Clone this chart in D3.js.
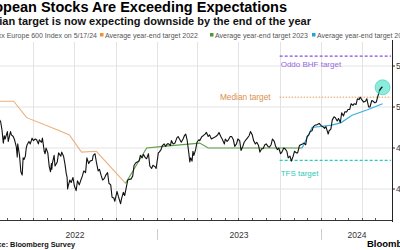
<!DOCTYPE html>
<html><head><meta charset="utf-8">
<script src="https://cdn.jsdelivr.net/npm/d3@7"></script>
<style>html,body{margin:0;padding:0;background:#fff;overflow:hidden}svg{display:block}</style>
</head><body><svg id="c" width="400" height="250"></svg>
<script>
const title = "European Stocks Are Exceeding Expectations";
const subtitle = "Median target is now expecting downside by the end of the year";
const legendLabels = ["Stoxx Europe 600 Index on 5/17/24","Average year-end target 2022","Average year-end target 2023","Average year-end target 2024"];
const yTicks = [400, 450, 500, 550];
const yearLabels = ["2022","2023","2024"];
const source = "Source: Bloomberg Survey";

const stoxx = [
["2021-12-01",468],["2021-12-06",470],["2021-12-10",473],["2021-12-15",474],["2021-12-20",470],["2021-12-24",483],["2021-12-29",488],
["2022-01-04",494],["2022-01-07",485],["2022-01-11",485],["2022-01-14",486],["2022-01-18",482],["2022-01-21",472],["2022-01-24",456],["2022-01-26",465],["2022-01-28",461],["2022-02-02",470],["2022-02-04",458],["2022-02-09",470],["2022-02-11",466],["2022-02-15",464],["2022-02-18",460],["2022-02-22",451],["2022-02-24",439],["2022-02-25",455],["2022-03-01",441],["2022-03-04",421],["2022-03-07",417],["2022-03-09",438],["2022-03-11",436],["2022-03-14",440],["2022-03-16",450],["2022-03-18",454],["2022-03-22",458],["2022-03-25",455],["2022-03-29",462],["2022-04-01",459],["2022-04-05",461],["2022-04-08",460],["2022-04-12",455],["2022-04-14",460],["2022-04-19",457],["2022-04-21",462],["2022-04-25",446],["2022-04-27",443],["2022-04-29",450],["2022-05-03",444],["2022-05-06",428],["2022-05-09",421],["2022-05-11",431],["2022-05-12",424],["2022-05-13",431],["2022-05-17",441],["2022-05-19",428],["2022-05-24",433],["2022-05-27",444],["2022-06-01",440],["2022-06-03",445],["2022-06-07",440],["2022-06-10",431],["2022-06-13",419],["2022-06-15",414],["2022-06-16",400],["2022-06-17",403],["2022-06-21",411],["2022-06-24",408],["2022-06-28",414],["2022-07-01",404],["2022-07-05",398],["2022-07-08",410],["2022-07-12",405],["2022-07-15",410],["2022-07-19",416],["2022-07-22",422],["2022-07-26",420],["2022-07-29",438],["2022-08-02",431],["2022-08-05",434],["2022-08-10",435],["2022-08-12",441],["2022-08-16",443],["2022-08-19",433],["2022-08-23",422],["2022-08-26",424],["2022-08-30",416],["2022-09-02",411],["2022-09-06",413],["2022-09-09",417],["2022-09-13",420],["2022-09-16",407],["2022-09-20",405],["2022-09-23",390],["2022-09-27",389],["2022-09-29",385],["2022-10-04",397],["2022-10-07",391],["2022-10-12",382],["2022-10-14",388],["2022-10-18",396],["2022-10-21",392],["2022-10-25",403],["2022-10-28",411],["2022-11-01",412],["2022-11-04",412],["2022-11-08",416],["2022-11-11",429],["2022-11-15",432],["2022-11-18",433],["2022-11-22",434],["2022-11-25",441],["2022-11-29",438],["2022-12-02",442],["2022-12-06",438],["2022-12-09",437],["2022-12-13",443],["2022-12-16",428],["2022-12-20",425],["2022-12-23",429],["2022-12-28",427],["2022-12-30",425],
["2023-01-04",444],["2023-01-06",445],["2023-01-10",448],["2023-01-13",453],["2023-01-17",455],["2023-01-20",452],["2023-01-24",455],["2023-01-27",455],["2023-01-31",453],["2023-02-02",459],["2023-02-06",455],["2023-02-10",456],["2023-02-14",462],["2023-02-17",464],["2023-02-21",460],["2023-02-24",457],["2023-02-28",461],["2023-03-03",465],["2023-03-06",467],["2023-03-09",460],["2023-03-13",443],["2023-03-15",433],["2023-03-17",438],["2023-03-20",434],["2023-03-22",446],["2023-03-24",441],["2023-03-28",448],["2023-03-31",457],["2023-04-04",460],["2023-04-06",459],["2023-04-11",464],["2023-04-14",465],["2023-04-18",467],["2023-04-21",469],["2023-04-25",464],["2023-04-28",466],["2023-05-02",461],["2023-05-05",462],["2023-05-09",463],["2023-05-12",464],["2023-05-16",466],["2023-05-19",469],["2023-05-23",464],["2023-05-26",461],["2023-05-31",455],["2023-06-02",461],["2023-06-06",458],["2023-06-09",460],["2023-06-13",464],["2023-06-16",464],["2023-06-20",460],["2023-06-23",452],["2023-06-27",455],["2023-06-30",461],["2023-07-04",459],["2023-07-07",447],["2023-07-11",452],["2023-07-14",457],["2023-07-18",460],["2023-07-21",462],["2023-07-25",465],["2023-07-28",470],["2023-08-01",466],["2023-08-04",459],["2023-08-08",455],["2023-08-11",457],["2023-08-15",453],["2023-08-18",445],["2023-08-22",449],["2023-08-25",449],["2023-08-29",454],["2023-09-01",455],["2023-09-05",452],["2023-09-08",451],["2023-09-12",454],["2023-09-15",461],["2023-09-19",458],["2023-09-22",452],["2023-09-26",448],["2023-09-29",450],["2023-10-03",443],["2023-10-06",445],["2023-10-10",450],["2023-10-13",449],["2023-10-17",446],["2023-10-20",438],["2023-10-24",440],["2023-10-27",434],["2023-10-31",440],["2023-11-03",446],["2023-11-07",444],["2023-11-10",444],["2023-11-14",453],["2023-11-17",454],["2023-11-21",455],["2023-11-24",456],["2023-11-28",454],["2023-12-01",464],["2023-12-05",466],["2023-12-08",470],["2023-12-12",471],["2023-12-15",476],["2023-12-19",478],["2023-12-22",478],["2023-12-28",480],
["2024-01-02",477],["2024-01-05",476],["2024-01-09",474],["2024-01-12",476],["2024-01-17",467],["2024-01-19",471],["2024-01-23",473],["2024-01-26",484],["2024-01-30",488],["2024-02-02",487],["2024-02-06",483],["2024-02-09",486],["2024-02-13",481],["2024-02-16",493],["2024-02-20",489],["2024-02-23",494],["2024-02-27",494],["2024-03-01",497],["2024-03-05",497],["2024-03-08",504],["2024-03-12",502],["2024-03-15",504],["2024-03-19",503],["2024-03-22",510],["2024-03-26",509],["2024-03-28",512],["2024-04-02",508],["2024-04-05",506],["2024-04-09",507],["2024-04-12",510],["2024-04-16",500],["2024-04-19",500],["2024-04-23",508],["2024-04-26",507],["2024-04-30",505],["2024-05-03",506],["2024-05-07",514],["2024-05-10",520],["2024-05-15",524],["2024-05-17",524]
];
const target2022 = [["2021-12-01",507],["2022-02-16",507],["2022-03-17",487],["2022-05-25",472],["2022-06-20",466],["2022-07-17",445],["2022-08-19",446],["2022-10-23",407]];
const target2023 = [["2022-10-23",407],["2022-12-09",450],["2023-01-15",452],["2023-04-06",456],["2023-04-25",450],["2023-11-20",450]];
const target2024 = [["2023-11-20",450],["2023-12-12",475],["2024-01-25",478],["2024-02-15",481],["2024-03-10",490],["2024-04-15",497],["2024-05-17",504]];
const annotations = [
  {label:"Oddo BHF target", value:562},
  {label:"Median target", value:512},
  {label:"TFS target", value:435}
];
const annStart = "2023-10-01";
const lastDate = "2024-05-17", lastValue = 524;

const parse = d3.timeParse("%Y-%m-%d");
const svg = d3.select("#c");
const plotTop = 42, plotBottom = 220, plotRight = 392;
const sans = "Liberation Sans, Arial, sans-serif";

const x = d3.scaleTime().domain([parse("2022-01-01"), parse("2024-01-01")]).range([-7, 321]);
const y = d3.scaleLinear().domain([400, 550]).range([189, 66]);

// titles
svg.append("text").attr("x",287).attr("y",12).attr("text-anchor","end").text(title)
  .attr("font-family",sans).attr("font-weight","bold").attr("font-size",14.5).attr("fill","#000");
svg.append("text").attr("x",311).attr("y",25).attr("text-anchor","end").text(subtitle)
  .attr("font-family",sans).attr("font-weight","bold").attr("font-size",11).attr("fill","#111");

// legend
const legColors = [null,"#f28e2b","#4a9a2e","#1fa3e0"];
const legX = [97, 100, 210, 312];
const lg = svg.append("g").attr("font-family",sans).attr("font-size",7).attr("fill","#555");
legendLabels.forEach((t,i)=>{
  if (legColors[i]) {
    lg.append("rect").attr("x",legX[i]).attr("y",33).attr("width",3.5).attr("height",3.5).attr("fill",legColors[i]);
    lg.append("text").attr("x",legX[i]+5).attr("y",37.5).text(t);
  } else {
    lg.append("text").attr("x",legX[i]).attr("y",37.5).attr("text-anchor","end").text(t);
  }
});

// grid
const g = svg.append("g");
g.selectAll(".hg").data(yTicks).join("line")
  .attr("x1",0).attr("x2",plotRight).attr("y1",d=>y(d)).attr("y2",d=>y(d))
  .attr("stroke","#e3e3e3").attr("stroke-width",1);
const quarters = d3.timeMonth.every(3).range(parse("2021-10-01"), parse("2024-06-01"));
g.selectAll(".vg").data(quarters).join("line")
  .attr("x1",d=>Math.round(x(d))+0.5).attr("x2",d=>Math.round(x(d))+0.5).attr("y1",plotTop).attr("y2",plotBottom)
  .attr("stroke","#e3e3e3").attr("stroke-width",1);

// x axis
svg.append("line").attr("x1",0).attr("x2",plotRight).attr("y1",plotBottom+0.5).attr("y2",plotBottom+0.5).attr("stroke","#333");
const months = d3.timeMonth.range(parse("2021-12-01"), parse("2024-06-01"));
svg.selectAll(".mt").data(months).join("line")
  .attr("x1",d=>Math.round(x(d))+0.5).attr("x2",d=>Math.round(x(d))+0.5).attr("y1",plotBottom-2).attr("y2",plotBottom)
  .attr("stroke","#555");
const years = yearLabels.map(s=>parse(s+"-01-01"));
svg.selectAll(".ysep").data(years.slice(1)).join("line")
  .attr("x1",d=>Math.round(x(d))+0.5).attr("x2",d=>Math.round(x(d))+0.5).attr("y1",229).attr("y2",240)
  .attr("stroke","#ccc");
svg.selectAll(".yl").data(years).join("text")
  .attr("x",d=>{const e=d3.timeYear.offset(d,1); return Math.min((x(d)+x(e))/2, 357);})
  .attr("y",238).attr("text-anchor","middle").text((d,i)=>yearLabels[i])
  .attr("font-family",sans).attr("font-size",8.5).attr("fill","#333");

// right axis
svg.append("line").attr("x1",plotRight+0.5).attr("x2",plotRight+0.5).attr("y1",plotTop-2).attr("y2",plotBottom+2).attr("stroke","#222");
svg.selectAll(".yt").data(yTicks).join("line")
  .attr("x1",plotRight).attr("x2",plotRight+3).attr("y1",d=>y(d)).attr("y2",d=>y(d)).attr("stroke","#222");
svg.selectAll(".ytl").data(yTicks).join("text")
  .attr("x",plotRight+4).attr("y",d=>y(d)+3).text(d=>d)
  .attr("font-family",sans).attr("font-size",8.5).attr("fill","#333");

// annotations
const annColors = ["#8a4fe0","#e59a55","#28cdbd"];
const annDash = ["3,2","1.5,1.5","3,2"];
annotations.forEach((a,i)=>{
  svg.append("line").attr("x1",x(parse(annStart))).attr("x2",plotRight-1)
    .attr("y1",y(a.value)).attr("y2",y(a.value))
    .attr("stroke",annColors[i]).attr("stroke-width", i===1?1:1.3).attr("stroke-dasharray",annDash[i]);
});
svg.append("text").attr("x",x(parse(annStart))+1).attr("y",y(annotations[0].value)+11).text(annotations[0].label)
  .attr("font-family",sans).attr("font-size",8).attr("fill","#9a66e0");
svg.append("text").attr("x",x(parse(annStart))-9).attr("y",y(annotations[1].value)+2.8).attr("text-anchor","end").text(annotations[1].label)
  .attr("font-family",sans).attr("font-size",8.3).attr("fill","#dc8f4a");
svg.append("text").attr("x",x(parse(annStart))+1).attr("y",y(annotations[2].value)+16).text(annotations[2].label)
  .attr("font-family",sans).attr("font-size",8).attr("fill","#2ec9bb");

// lines
const line = d3.line().x(d=>x(parse(d[0]))).y(d=>y(d[1]));
svg.append("path").datum(target2022).attr("d",line).attr("fill","none").attr("stroke","#ecb07c").attr("stroke-width",1.1);
svg.append("path").datum(target2023).attr("d",line).attr("fill","none").attr("stroke","#5a9e45").attr("stroke-width",1.1);
svg.append("path").datum(target2024).attr("d",line).attr("fill","none").attr("stroke","#3aaee0").attr("stroke-width",1.2);
svg.append("path").datum(stoxx).attr("d",line).attr("fill","none").attr("stroke","#111").attr("stroke-width",1.1).attr("stroke-linejoin","round");

// highlight circle
svg.append("circle").attr("cx",x(parse(lastDate))).attr("cy",y(lastValue)).attr("r",7.5)
  .attr("fill","#3fe0c4").attr("fill-opacity",0.6).attr("stroke","#2cc9b2").attr("stroke-width",0.6);
svg.append("path").datum(stoxx.slice(-3)).attr("d",line).attr("fill","none").attr("stroke","#111").attr("stroke-width",1.1);

// source
svg.append("text").attr("x",75).attr("y",246.5).attr("text-anchor","end").text(source)
  .attr("font-family",sans).attr("font-weight","bold").attr("font-size",7.3).attr("fill","#111");
svg.append("text").attr("x",367).attr("y",247).text("Bloomberg")
  .attr("font-family",sans).attr("font-weight","bold").attr("font-size",9.5).attr("fill","#000");
</script></body></html>
